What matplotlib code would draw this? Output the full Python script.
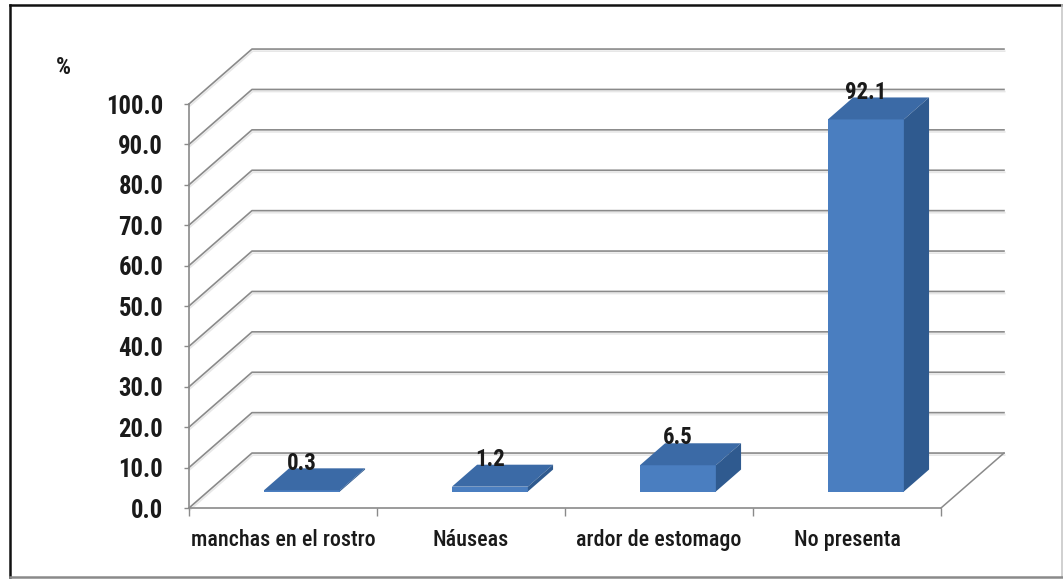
import matplotlib

matplotlib.use("Agg")
import matplotlib.patheffects as pe
import matplotlib.pyplot as plt
from matplotlib import font_manager
from matplotlib.lines import Line2D
from matplotlib.patches import Polygon

categories = ["manchas en el rostro", "Náuseas", "ardor de estomago", "No presenta"]
percentages = [0.3, 1.2, 6.5, 92.1]
y_ticks = [0, 10, 20, 30, 40, 50, 60, 70, 80, 90, 100]


def pick_font():
    """Prefer a narrow sans; fall back to an Arial-metric face at smaller sizes."""
    narrow = [("Liberation Sans Narrow", "normal"), ("Roboto Condensed", "normal"),
              ("Open Sans Condensed", "normal"), ("DejaVu Sans", "condensed")]
    for family, stretch in narrow:
        try:
            path = font_manager.findfont(font_manager.FontProperties(family=family, stretch=stretch),
                                         fallback_to_default=False)
        except ValueError:
            continue
        if stretch == "condensed" and "Condensed" not in path:
            continue
        return family, stretch, 1.0
    return "Liberation Sans", "normal", 0.82


FAMILY, STRETCH, SCALE = pick_font()
plt.rcParams["font.family"] = [FAMILY, "DejaVu Sans"]
plt.rcParams["font.stretch"] = STRETCH

W, H = 1063, 580
PX_PER_PCT = 4.04

# oblique projection of the depth axis (category units, percent units)
DX, DY = 0.335, 13.6
Z_FRONT, Z_BACK = 0.3, 0.7
BAR_W = 0.404

FRONT = "#4a7ec0"
TOP = "#3b6aa6"
SIDE = "#2f5a8f"
GRID = "#8a8a8a"
TEXT = "#1a1a1a"

fig = plt.figure(figsize=(W / 100, H / 100), dpi=100)
fig.patch.set_facecolor("white")
ax = fig.add_axes([189 / W, 72 / H, 846 / W, 118 * PX_PER_PCT / H])
ax.set_xlim(-0.5, 4.0)
ax.set_ylim(0, 118)
ax.set_facecolor("white")

n = len(categories)
shadow = [pe.SimpleLineShadow(offset=(0.5, -1.5), shadow_color="#b0b0b0", alpha=0.3), pe.Normal()]

# back wall gridlines with their diagonal on the side wall
for v in y_ticks:
    ax.plot([-0.5, -0.5 + DX, n - 0.5 + DX], [v, v + DY, v + DY],
            color=GRID, lw=1.2, zorder=1, clip_on=False, path_effects=shadow)
# right edge of the floor
ax.plot([n - 0.5, n - 0.5 + DX], [0, DY], color=GRID, lw=1.1, zorder=1, clip_on=False)

# bars: front face, top and side
xs = list(range(n))
x_front = [x + Z_FRONT * DX for x in xs]
ax.bar(x_front, percentages, width=BAR_W, bottom=Z_FRONT * DY, color=FRONT, linewidth=0, zorder=3)
depth_x = (Z_BACK - Z_FRONT) * DX
depth_y = (Z_BACK - Z_FRONT) * DY
for xf, v in zip(x_front, percentages):
    xl, xr = xf - BAR_W / 2, xf + BAR_W / 2
    y0 = Z_FRONT * DY
    top = Polygon([(xl, v + y0), (xr, v + y0), (xr + depth_x, v + y0 + depth_y), (xl + depth_x, v + y0 + depth_y)],
                  closed=True, facecolor=TOP, edgecolor="none", zorder=3)
    side = Polygon([(xr, y0), (xr, v + y0), (xr + depth_x, v + y0 + depth_y), (xr + depth_x, y0 + depth_y)],
                   closed=True, facecolor=SIDE, edgecolor="none", zorder=3)
    ax.add_patch(top)
    ax.add_patch(side)
    ax.text(xf, v + Z_BACK * DY - 0.3, f"{v:.1f}", ha="center", va="baseline",
            fontsize=16.5 * SCALE, fontweight="bold", color=TEXT, zorder=4)

# axes styling
for side_name in ("top", "right"):
    ax.spines[side_name].set_visible(False)
ax.spines["left"].set_bounds(0, 100)
ax.spines["bottom"].set_bounds(-0.5, n - 0.5)
for side_name in ("left", "bottom"):
    ax.spines[side_name].set_color(GRID)
    ax.spines[side_name].set_linewidth(1.2)
    ax.spines[side_name].set_zorder(2)

ax.set_yticks(y_ticks)
ax.set_yticklabels([f"{v:.1f}" for v in y_ticks])
ax.tick_params(axis="y", length=3.6, width=1.0, color=GRID, pad=15,
               labelsize=17.8 * SCALE, labelcolor=TEXT)
for lbl in ax.get_yticklabels():
    lbl.set_fontweight("bold")

ax.set_xticks(xs)
ax.set_xticklabels(categories)
ax.set_xticks([x - 0.5 for x in range(n + 1)], minor=True)
ax.tick_params(axis="x", which="major", length=0, pad=15, labelsize=15.8 * SCALE, labelcolor=TEXT)
ax.tick_params(axis="x", which="minor", length=5.5, width=1.0, color=GRID)
for lbl in ax.get_xticklabels():
    lbl.set_fontweight("medium")

fig.text(63 / W, 1 - 68 / H, "%", ha="center", va="center", fontsize=17 * SCALE,
         fontweight="bold", color=TEXT)

# outer frame
fig.add_artist(Line2D([10 / W, 10 / W], [1 - 5 / H, 1 - 577 / H], color="#111111", lw=1.8))
fig.add_artist(Line2D([10 / W, 1.0], [1 - 5 / H, 1 - 5 / H], color="#111111", lw=1.8))
fig.add_artist(Line2D([1062 / W, 1062 / W], [1 - 5 / H, 1 - 577 / H], color="#c8c8c8", lw=1.2))
fig.add_artist(Line2D([10 / W, 1062 / W], [1 - 577 / H, 1 - 577 / H], color="#8a8a8a", lw=1.8))

fig.savefig("out.png", dpi=100, facecolor="white")
plt.close(fig)
